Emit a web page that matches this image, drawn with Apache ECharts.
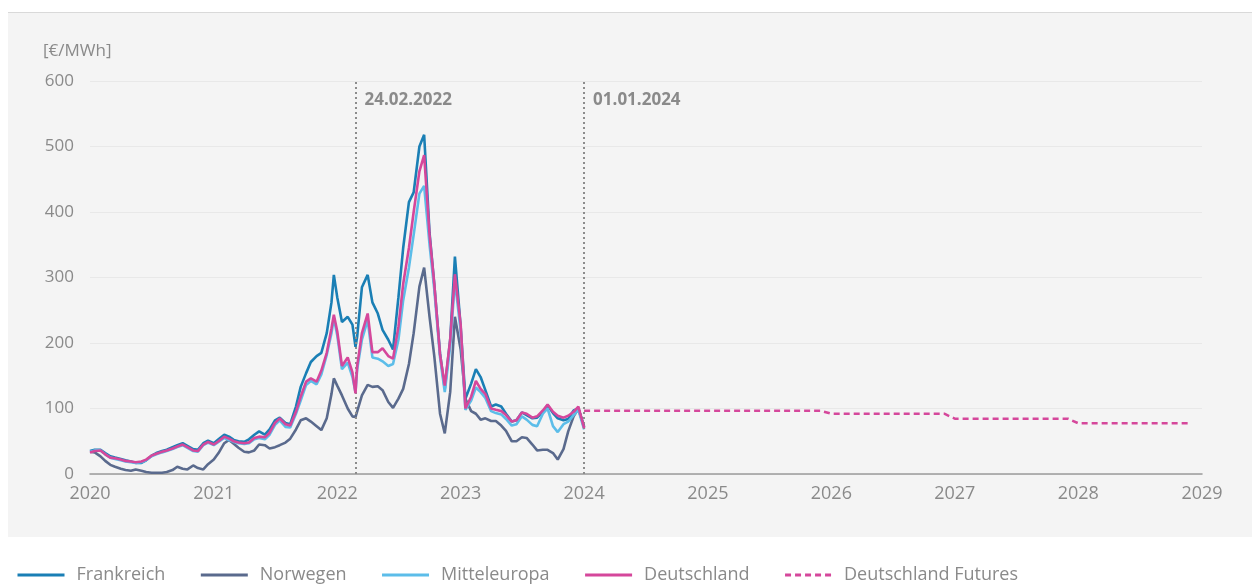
<!DOCTYPE html>
<html>
<head>
<meta charset="utf-8">
<script src="https://cdn.jsdelivr.net/npm/echarts@6/dist/echarts.min.js"></script>
<style>
  html, body { margin: 0; padding: 0; background: #fff; }
  #panel { position: absolute; left: 8px; top: 12px; width: 1244px; height: 524px; background: #f4f4f4; border-top: 1px solid #d9d9d9; }
  #chart { position: absolute; left: 0; top: 0; width: 1252px; height: 584px; }
</style>
</head>
<body>
<div id="panel"></div>
<div id="chart"></div>
<script>
  // sample dates (1st and 15th of each month, plus two extra points)
  const dates = [
    '2020-01-01','2020-01-15','2020-02-01','2020-02-15','2020-03-01','2020-03-15','2020-04-01','2020-04-15',
    '2020-05-01','2020-05-15','2020-06-01','2020-06-15','2020-07-01','2020-07-15','2020-08-01','2020-08-15',
    '2020-09-01','2020-09-15','2020-10-01','2020-10-15','2020-11-01','2020-11-15','2020-12-01','2020-12-15',
    '2021-01-01','2021-01-15','2021-02-01','2021-02-15','2021-03-01','2021-03-15','2021-04-01','2021-04-15',
    '2021-05-01','2021-05-15','2021-06-01','2021-06-15','2021-07-01','2021-07-15','2021-08-01','2021-08-15',
    '2021-09-01','2021-09-15','2021-10-01','2021-10-15','2021-11-01','2021-11-15','2021-12-01','2021-12-15',
    '2021-12-22',
    '2022-01-01','2022-01-15','2022-02-01','2022-02-15','2022-02-24','2022-03-01','2022-03-15','2022-04-01',
    '2022-04-15','2022-05-01','2022-05-15','2022-06-01','2022-06-15','2022-07-01','2022-07-15','2022-08-01',
    '2022-08-15','2022-09-01','2022-09-15','2022-10-01','2022-10-15','2022-11-01','2022-11-15','2022-12-01',
    '2022-12-15',
    '2023-01-01','2023-01-15','2023-02-01','2023-02-15','2023-03-01','2023-03-15','2023-04-01','2023-04-15',
    '2023-05-01','2023-05-15','2023-06-01','2023-06-15','2023-07-01','2023-07-15','2023-08-01','2023-08-15',
    '2023-09-01','2023-09-15','2023-10-01','2023-10-15','2023-11-01','2023-11-15','2023-12-01','2023-12-15',
    '2024-01-01'
  ];

  const frankreich = [
    35, 37, 37, 32, 27, 25, 23, 21, 19, 17, 17, 21, 28, 32, 35, 37, 41, 44, 47, 43, 38, 37, 47, 51,
    47, 53, 60, 57, 52, 50, 49, 53, 60, 65, 60, 68, 82, 86, 78, 76, 103, 133, 154, 171, 180, 185, 215, 262,
    304,
    270, 232, 240, 228, 194, 210, 285, 304, 262, 245, 220, 205, 190, 270, 345, 415, 430, 500, 518, 368, 290, 184, 130, 205, 332,
    225, 115, 138, 160, 148, 128, 103, 106, 103, 92, 80, 82, 94, 90, 85, 86, 95, 105, 93, 85, 82, 84, 97, 100,
    72
  ];

  const norwegen = [
    34, 33, 27, 20, 14, 11, 8, 6, 5, 7, 5, 3, 2, 2, 2, 3, 6, 11, 8, 7, 13, 9, 7, 15,
    22, 32, 47, 52, 46, 40, 34, 33, 36, 45, 44, 39, 41, 44, 48, 54, 68, 82, 85, 80, 73, 67, 85, 122,
    146,
    135, 120, 100, 88, 87, 90, 120, 136, 133, 134, 128, 110, 101, 115, 130, 168, 215, 286, 315, 240, 180, 92, 62, 125, 240,
    190, 115, 96, 92, 83, 85, 81, 81, 74, 66, 50, 50, 56, 55, 45, 36, 37, 37, 32, 22, 38, 65, 88, 100,
    72
  ];

  const mitteleuropa = [
    34, 36, 36, 30, 25, 23, 21, 19, 18, 17, 18, 21, 27, 30, 33, 35, 38, 41, 44, 40, 35, 34, 44, 48,
    44, 49, 55, 52, 49, 47, 46, 47, 53, 55, 53, 60, 75, 82, 72, 71, 92, 112, 136, 142, 137, 152, 182, 215,
    238,
    212, 160, 170, 148, 125, 160, 205, 235, 178, 176, 172, 165, 168, 205, 265, 315, 365, 428, 440, 350, 282, 178, 125, 195, 295,
    218, 98, 112, 132, 125, 116, 96, 93, 91, 84, 74, 76, 88, 83, 75, 73, 92, 100, 73, 64, 76, 80, 90, 98,
    68
  ];

  const deutschland = [
    33, 35, 36, 30, 25, 24, 22, 20, 19, 18, 19, 22, 28, 31, 34, 36, 39, 42, 45, 41, 36, 35, 45, 49,
    45, 50, 57, 54, 50, 48, 47, 48, 55, 57, 56, 63, 78, 85, 76, 74, 95, 118, 141, 146, 141, 158, 185, 222,
    243,
    218, 165, 178, 155, 123, 165, 215, 245, 186, 186, 192, 180, 176, 225, 290, 345, 400, 462, 487, 365, 290, 182, 135, 205, 305,
    228, 100, 118, 142, 130, 122, 100, 98, 96, 90, 80, 82, 94, 92, 86, 88, 97, 106, 95, 89, 86, 89, 95, 103,
    70
  ];

  const futuresDates = ['2024-01-01', '2025-12-01', '2026-01-01', '2026-12-01', '2027-01-01', '2027-12-01', '2028-01-01', '2028-11-28'];
  const futuresValues = [96.5, 96.5, 92, 92, 84.5, 84.5, 77.5, 77.5];

  const eventDates = ['2022-02-24', '2024-01-01'];
  const eventLabels = ['24.02.2022', '01.01.2024'];

  const seriesNames = ['Frankreich', 'Norwegen', 'Mitteleuropa', 'Deutschland', 'Deutschland Futures'];
  const colors = ['#1a7fb5', '#5a6a8d', '#5cbde9', '#d5479b', '#d5479b'];

  const font = '"Open Sans", sans-serif';
  const textGrey = '#8a8a8a';

  const pairs = (xs, ys) => xs.map((d, i) => [d, ys[i]]);

  const chart = echarts.init(document.getElementById('chart'));

  const lineSeries = [frankreich, norwegen, mitteleuropa, deutschland].map((vals, i) => ({
    name: seriesNames[i],
    type: 'line',
    data: pairs(dates, vals),
    showSymbol: false,
    symbol: 'none',
    lineStyle: { width: 2.6, color: colors[i] },
    itemStyle: { color: colors[i] },
    z: 2 + i
  }));

  lineSeries.push({
    name: seriesNames[4],
    type: 'line',
    data: pairs(futuresDates, futuresValues),
    showSymbol: false,
    symbol: 'none',
    lineStyle: { width: 2.5, color: colors[4], type: [6, 4] },
    itemStyle: { color: colors[4] },
    z: 6
  });

  // dotted event markers
  lineSeries[0].markLine = {
    silent: true,
    symbol: 'none',
    lineStyle: { color: '#8c8c8c', type: [2, 3], width: 2 },
    label: {
      position: 'end',
      align: 'left',
      verticalAlign: 'top',
      offset: [9, 16],
      color: textGrey,
      fontFamily: font,
      fontSize: 17,
      fontWeight: 'bold',
      formatter: p => p.name
    },
    data: eventDates.map((d, i) => [
      { name: eventLabels[i], xAxis: d, yAxis: 0 },
      { xAxis: d, yAxis: 600 }
    ])
  };

  chart.setOption({
    animation: false,
    title: {
      text: '[€/MWh]',
      left: 38,
      top: 38,
      textStyle: { color: textGrey, fontFamily: font, fontSize: 17, fontWeight: 'normal' }
    },
    grid: { left: 90, right: 50, top: 81, bottom: 110 },
    legend: {
      left: 11,
      top: 561,
      itemWidth: 47,
      itemHeight: 14,
      itemGap: 34,
      data: seriesNames,
      itemStyle: { opacity: 0 },
      lineStyle: { width: 3 },
      textStyle: { color: textGrey, fontFamily: font, fontSize: 18, padding: [0, 0, 0, 7] }
    },
    xAxis: {
      type: 'time',
      min: '2020-01-01',
      max: '2029-01-01',
      splitNumber: 9,
      minInterval: 365 * 24 * 3600 * 1000,
      axisLine: { lineStyle: { color: '#9a9a9a', width: 1.5 } },
      axisTick: { show: false },
      splitLine: { show: false },
      axisLabel: {
        formatter: '{yyyy}',
        color: textGrey,
        fontFamily: font,
        fontSize: 18,
        margin: 11,
        showMinLabel: true,
        showMaxLabel: true
      }
    },
    yAxis: {
      type: 'value',
      min: 0,
      max: 600,
      interval: 100,
      axisLine: { show: false },
      axisTick: { show: false },
      splitLine: { lineStyle: { color: '#e8e8e8', width: 1 } },
      axisLabel: { color: textGrey, fontFamily: font, fontSize: 17, margin: 16 }
    },
    series: lineSeries
  });
</script>
</body>
</html>
